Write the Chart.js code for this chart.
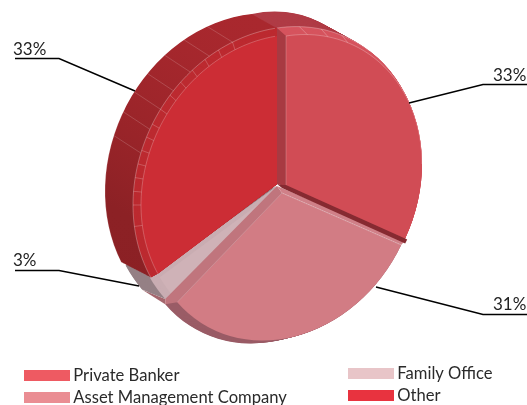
<!DOCTYPE html>
<html><head><meta charset="utf-8">
<style>html,body{margin:0;padding:0;background:#fff}#wrap{position:absolute;left:0;top:0;width:527px;height:405px}</style>
<script src="https://cdn.jsdelivr.net/npm/chart.js@4"></script>
</head><body><div id="wrap"><canvas id="c" width="527" height="405"></canvas></div>
<script>
const categories = ['Private Banker', 'Asset Management Company', 'Family Office', 'Other'];
const shareValues = [33, 31, 3, 33];
const legendColors = ['#ee5a62', '#ea8d93', '#e8c5c8', '#e8333f'];
const faceColors = ['#d14c55', '#d27c84', '#cfb2b7', '#cc2d35'];

// Projection of the tilted disc: centre C, unit vectors U (t=90deg) and V (t=180deg)
const E = (cx, cy, ux, uy, vx, vy) => ({cx, cy, ux, uy, vx, vy});
const geo = {
  outer:     E(256, 177.5, 151, -10.5, 4, 163.5),
  otherOuter:E(249, 172.5, 144, -15.5, -3, 158.5),
  assetBack: E(270, 193, 136, -21, 0, 149),
  privBack:  E(255, 172, 130, -28, 3, 158),
  privMid:   E(278, 183, 143, -21, 1, 155),
  privFace:  E(286, 185, 136, -21, 0, 149),
  otherMid:  E(277, 184, 144, -21, 0, 156),
  otherFace: E(277, 184, 136, -21, 0, 148),
  famMid:    E(277, 186, 145, -21, 0, 152),
  famFace:   E(279, 189, 136, -21, 0, 145),
  assetMid:  E(277, 186, 136, -21, 0, 146),
  assetFace: E(282, 193, 136, -21, 0, 146)
};
const outerFacets = [342, 332, 323, 314, 306, 298, 289];
const innerFacets = [342, 336, 330, 324, 318, 312, 306, 300, 295, 290, 285, 280, 275, 270, 262];
const topFacets = [9, 18, 27];
const leaderLines = [
  {pts: [[527, 84.5], [483, 84.5], [409, 103]], text: [493, 81]},
  {pts: [[527, 314.5], [483, 314.5], [376, 287]], text: [493, 310]},
  {pts: [[15, 270.5], [59, 270.5], [139, 286]], text: [13, 266]},
  {pts: [[15, 58.5], [59, 58.5], [135, 91]], text: [13, 55]}
];

const lerp = (a, b, k) => a + (b - a) * k;
const mix = (A, B, k) => { const o = {}; for (const p in A) o[p] = lerp(A[p], B[p], k); return o; };
const pt = (G, deg) => { const t = deg * Math.PI / 180, s = Math.sin(t), c = Math.cos(t);
  return [G.cx + G.ux * s - G.vx * c, G.cy + G.uy * s - G.vy * c]; };

function sector(ctx, arc, G, fill) {
  const R = arc.outerRadius, base = arc.options;
  ctx.save();
  ctx.transform(G.ux / R, G.uy / R, G.vx / R, G.vy / R, G.cx - (G.ux * arc.x + G.vx * arc.y) / R, G.cy - (G.uy * arc.x + G.vy * arc.y) / R);
  arc.options = Object.assign(Object.create(base), {backgroundColor: typeof fill === 'function' ? fill(ctx, arc) : fill});
  arc.draw(ctx);
  arc.options = base;
  ctx.restore();
}
function sweep(ctx, arc, A, B, fill, n = 36) {
  for (let i = 0; i <= n; i++) sector(ctx, arc, mix(A, B, i / n), fill);
}
function poly(ctx, pts, fill) {
  ctx.beginPath(); pts.forEach((p, i) => i ? ctx.lineTo(p[0], p[1]) : ctx.moveTo(p[0], p[1])); ctx.closePath();
  ctx.fillStyle = fill; ctx.fill();
}
function line(ctx, pts, col, w) {
  ctx.beginPath(); pts.forEach((p, i) => i ? ctx.lineTo(p[0], p[1]) : ctx.moveTo(p[0], p[1]));
  ctx.strokeStyle = col; ctx.lineWidth = w; ctx.stroke();
}
function rim(ctx, G, a0, a1, col, w) {
  const pts = []; for (let d = a0; d <= a1 + 0.01; d += 2) pts.push(pt(G, d));
  line(ctx, pts, col, w);
}
const centre = G => [G.cx, G.cy];

const painter = {
  id: 'painter',
  afterLayout(chart) {
    const L = chart.legend;
    L.left = 23.6; L.right = 520; L.top = 360; L.bottom = 420;
    L.width = L.right - L.left; L.height = L.bottom - L.top;
    L.columnSizes = [{width: 318.6, height: 51}, {width: 170, height: 55}];
  },
  beforeDatasetsDraw(chart) {
    const ctx = chart.ctx, arcs = chart.getDatasetMeta(0).data;
    const spans = []; let acc = 0;
    const total = shareValues.reduce((a, b) => a + b, 0);
    shareValues.forEach(v => { spans.push([acc, acc + v / total * 360]); acc += v / total * 360; });
    const [pv, as, fa, ot] = arcs;
    const sideGrad = (c, arc) => {
      const g = c.createLinearGradient(0, arc.y - arc.outerRadius, 0, arc.y + arc.outerRadius);
      g.addColorStop(0, '#a9282e'); g.addColorStop(.55, '#8c2125'); g.addColorStop(1, '#8b2024');
      return g;
    };
    // Private Banker
    sweep(ctx, pv, geo.privBack, geo.privMid, '#b03c46');
    sweep(ctx, pv, geo.privMid, geo.privFace, '#d6545e', 12);
    sector(ctx, pv, geo.privFace, faceColors[0]);
    topFacets.forEach(d => line(ctx, [pt(geo.privMid, d), pt(geo.privFace, d)], 'rgba(255,255,255,.35)', .7));
    rim(ctx, geo.privFace, 0, 90, 'rgba(255,255,255,.35)', .7);
    rim(ctx, geo.privMid, 0, 40, 'rgba(255,255,255,.4)', .7);
    poly(ctx, [pt(geo.otherMid, 0), pt(geo.privFace, 0), centre(geo.privFace), centre(geo.otherFace)], '#a83a42');
    line(ctx, [pt(geo.privFace, 0), centre(geo.privFace)], 'rgba(255,255,255,.3)', .7);
    // Asset rim, under everything to its left
    sweep(ctx, as, geo.assetBack, geo.assetFace, '#9a5c66', 16);
    poly(ctx, [pt(geo.outer, spans[1][1]), pt(geo.assetBack, spans[1][1]), pt(geo.famMid, spans[1][1])], '#a5666d');
    // Family Office
    sweep(ctx, fa, geo.outer, geo.famMid, '#958085');
    sweep(ctx, fa, geo.famMid, geo.famFace, '#c9adb2', 12);
    sector(ctx, fa, geo.famFace, faceColors[2]);
    // Other
    sweep(ctx, ot, geo.otherOuter, geo.otherMid, sideGrad);
    sweep(ctx, ot, geo.otherMid, geo.otherFace, '#bc2a30', 12);
    sector(ctx, ot, geo.otherFace, faceColors[3]);
    outerFacets.forEach(d => line(ctx, [pt(geo.otherOuter, d), pt(geo.otherMid, d)], 'rgba(255,255,255,.24)', .7));
    innerFacets.forEach(d => line(ctx, [pt(geo.otherMid, d), pt(geo.otherFace, d)], 'rgba(255,255,255,.3)', .7));
    rim(ctx, geo.otherMid, spans[2][1], 360, 'rgba(255,255,255,.4)', .7);
    rim(ctx, geo.otherFace, spans[2][1], 360, 'rgba(255,255,255,.33)', .7);
    rim(ctx, geo.otherOuter, spans[2][1], 300, 'rgba(255,255,255,.3)', .7);
    // Asset Management walls and face
    poly(ctx, [centre(geo.assetMid), centre(geo.assetFace), pt(geo.assetFace, spans[1][1]), pt(geo.assetBack, spans[1][1]), pt(geo.famMid, spans[1][1])], '#c0757d');
    poly(ctx, [centre(geo.assetMid), centre(geo.assetFace), pt(geo.assetFace, spans[1][0]), [pt(geo.privFace, spans[1][0])[0], pt(geo.privFace, spans[1][0])[1] + 2]], '#d08088');
    sector(ctx, as, geo.assetFace, faceColors[1]);
    line(ctx, [centre(geo.assetFace), pt(geo.assetFace, spans[1][0])], 'rgba(255,255,255,.4)', .7);
    line(ctx, [centre(geo.assetFace), pt(geo.assetFace, spans[1][1])], 'rgba(255,255,255,.3)', .7);
    // Private Banker front wall
    const tip = pt(geo.privFace, spans[0][1]);
    poly(ctx, [centre(geo.privFace), tip, [tip[0] + 2, tip[1] + 1], [tip[0], tip[1] + 5], [geo.privFace.cx - 4, geo.privFace.cy + 3], centre(geo.otherFace)], '#862a31');
    // Leader lines and labels
    ctx.save();
    ctx.font = '17px Lato'; ctx.textAlign = 'left'; ctx.textBaseline = 'alphabetic';
    leaderLines.forEach((l, i) => {
      line(ctx, l.pts, '#000', 1.4);
      ctx.fillStyle = '#222';
      ctx.fillText(shareValues[i] + '%', l.text[0], l.text[1]);
    });
    ctx.restore();
    return false;
  }
};

new Chart(document.getElementById('c'), {
  type: 'pie',
  data: {labels: categories, datasets: [{data: shareValues, backgroundColor: faceColors, borderWidth: 0}]},
  options: {
    responsive: false, animation: false, events: [],
    plugins: {
      tooltip: {enabled: false},
      legend: {
        position: 'left',
        labels: {
          boxWidth: 36, boxHeight: 1, padding: 5.4,
          color: '#2a2a2a', font: {family: 'Lato', size: 16.6},
          generateLabels: chart => chart.data.labels.map((text, i) => ({
            text, index: i, fillStyle: legendColors[i], strokeStyle: legendColors[i], lineWidth: 10, fontColor: '#2a2a2a'
          }))
        }
      }
    }
  },
  plugins: [painter]
});
</script></body></html>
